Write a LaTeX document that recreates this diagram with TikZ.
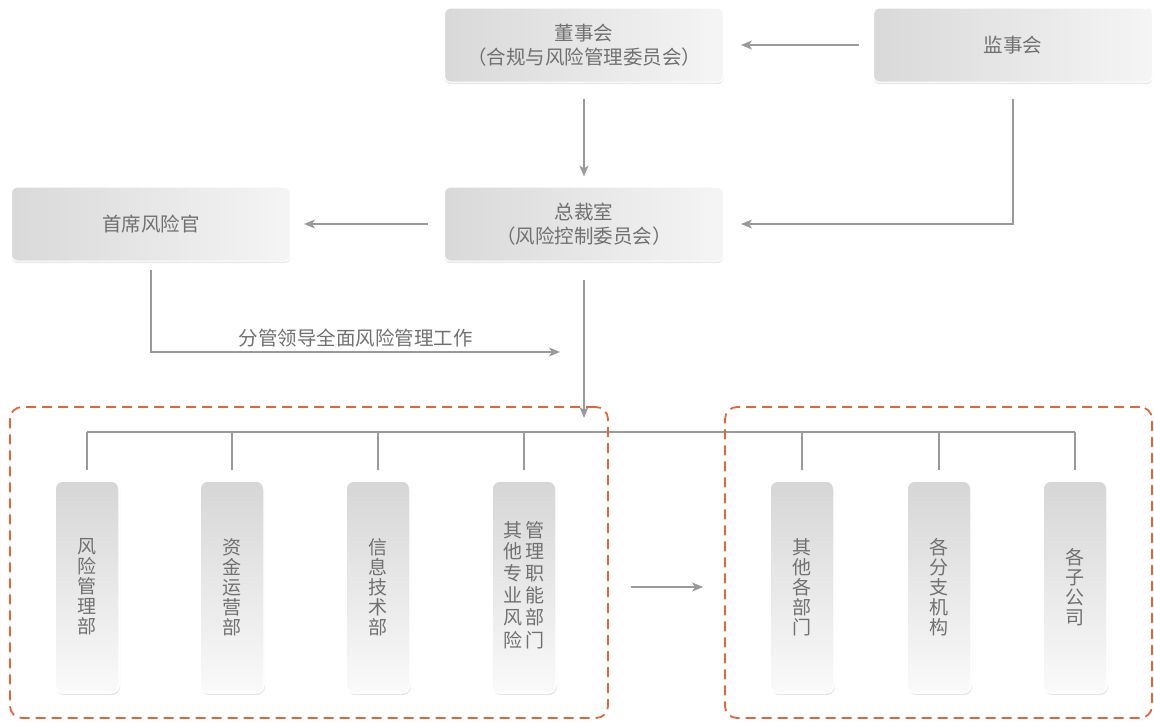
\documentclass[tikz,border=0pt]{standalone}
\usepackage{fontspec}
\setmainfont{Noto Sans CJK SC}
\usetikzlibrary{arrows.meta,shadows}
\definecolor{txtgray}{HTML}{707070}
\definecolor{linegray}{HTML}{9A9A9A}
\definecolor{dashred}{HTML}{E0663C}

\begin{document}
\begin{tikzpicture}[x=1pt,y=-1pt,
      font=\fontsize{19.5}{24}\selectfont,
      wide/.style={rectangle, rounded corners=6pt, draw=white, line width=1pt,
        left color=black!15, right color=black!4, text=txtgray,
        minimum width=279pt, minimum height=74pt, align=center,
        drop shadow={opacity=0.18, shadow xshift=0pt, shadow yshift=-2pt}},
      tall/.style={rectangle, rounded corners=8pt, draw=white, line width=1.5pt,
        top color=black!16, bottom color=black!2, text=txtgray,
        minimum width=64pt, minimum height=212pt, align=center,
        font=\fontsize{19}{20}\selectfont,
        drop shadow={opacity=0.2, shadow xshift=1pt, shadow yshift=-2pt}},
      arr/.style={draw=linegray, line width=1.3pt, -{Stealth[length=11pt,width=9pt,inset=3pt]}},
      link/.style={draw=linegray, line width=1.2pt},
      group/.style={draw=dashred, line width=1.8pt, dash pattern=on 10pt off 6pt, rounded corners=12pt}
      ]
      \useasboundingbox (0,0) rectangle (1154,721);
      \node[wide] (dsh) at (584,45) {董事会\\（合规与风险管理委员会）};
      \node[wide] (jsh) at (1013,45) {监事会};
      \node[wide] (sxf) at (151,224) {首席风险官};
      \node[wide] (zcs) at (584,224) {总裁室\\（风险控制委员会）};
      \node[tall] (v1) at (87,587) {风\\险\\管\\理\\部};
      \node[tall] (v2) at (232,587) {资\\金\\运\\营\\部};
      \node[tall] (v3) at (378,587) {信\\息\\技\\术\\部};
      \node[tall] (v4) at (524,587) {\begin{tabular}{@{}c@{\hspace{3pt}}c@{}}
        其&管\\他&理\\专&职\\业&能\\风&部\\险&门\end{tabular}};
      \node[tall] (v5) at (802,587) {其\\他\\各\\部\\门};
      \node[tall] (v6) at (939,587) {各\\分\\支\\机\\构};
      \node[tall] (v7) at (1075,587) {各\\子\\公\\司};
      \coordinate (lead) at (560,352);
      \coordinate (hub) at (584,418);
      \coordinate (bus) at (0,432);
      \draw[arr, shorten <=14pt, shorten >=17pt] (jsh) -- (dsh);
      \draw[arr, shorten <=16pt, shorten >=10pt] (dsh) -- (zcs);
      \draw[arr, shorten <=16pt, shorten >=17pt] (jsh.south) |- (zcs.east);
      \draw[arr, shorten <=16pt, shorten >=13pt] (zcs) -- (sxf);
      \draw[arr, shorten <=8pt] (sxf.south) |- (lead)
        node[pos=0.75, above=1pt, text=txtgray] {分管领导全面风险管理工作};
      \draw[arr, shorten <=18pt] (zcs.south) -- (hub);
      \foreach \n in {v1,v2,v3,v4,v5,v6,v7}
        \draw[link] ([yshift=10pt]\n.north) -- (\n.north |- bus);
      \draw[link] (v1.north |- bus) -- (v7.north |- bus);
      \node[group, minimum width=598pt, minimum height=311pt] (gl) at (309,562.5) {};
      \node[group, minimum width=427pt, minimum height=311pt] (gr) at (938.5,562.5) {};
      \draw[arr, shorten <=22pt, shorten >=21pt] (gl.east |- v4) -- (gr.west |- v4);
    \end{tikzpicture}
\end{document}
